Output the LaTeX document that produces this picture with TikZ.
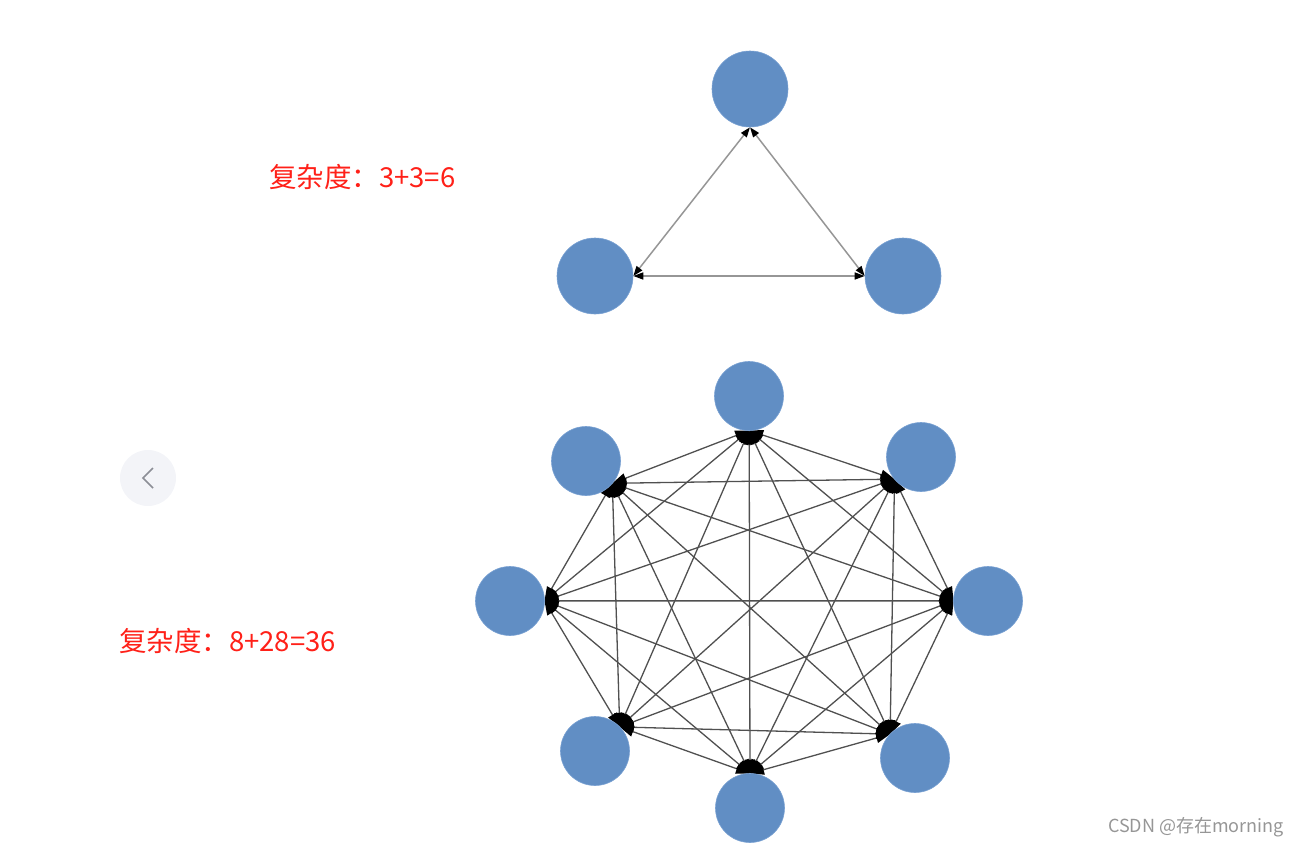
\documentclass[tikz,border=0pt]{standalone}
\usepackage{fontspec}
\newfontfamily\cjk{Noto Sans CJK SC}
\usetikzlibrary{arrows.meta,calc,backgrounds}
\definecolor{nodeblue}{RGB}{97,142,196}
\definecolor{nodeedge}{RGB}{120,160,210}
\definecolor{labelred}{RGB}{255,32,24}
\definecolor{wmgray}{RGB}{150,150,150}
\definecolor{btnbg}{RGB}{243,244,248}
\definecolor{btnfg}{RGB}{140,142,150}
\tikzset{
  gnode/.style={circle,fill=nodeblue,draw=nodeedge,line width=0.6pt,inner sep=0pt},
  trinode/.style={gnode,minimum size=76pt},
  octnode/.style={gnode,minimum size=69pt},
  triedge/.style={draw={rgb,255:red,150;green,150;blue,150},line width=1.5pt,
    {Triangle[length=10pt,width=7pt,fill=black,color=black]}-{Triangle[length=10pt,width=7pt,fill=black,color=black]}},
  octedge/.style={draw={rgb,255:red,80;green,80;blue,80},line width=1.3pt,
    {Triangle[length=14pt,width=10pt,fill=black,color=black]}-{Triangle[length=14pt,width=10pt,fill=black,color=black]}},
  redlabel/.style={text=labelred,font=\cjk\fontsize{27.5}{32}\selectfont,anchor=west,inner sep=0pt},
}
\begin{document}
\begin{tikzpicture}[x=1pt,y=-1pt]
\useasboundingbox (0,0) rectangle (1299,846);

% back button
\node[circle,fill=btnbg,minimum size=56pt,inner sep=0pt] (btn) at (148,478) {};
\draw[btnfg,line width=1.6pt] ($(btn)+(5,-10)$) -- ($(btn)+(-5,0)$) -- ($(btn)+(5,10)$);

% labels
\node[redlabel] (lab1) at (269,177) {复杂度：3+3=6};
\node[redlabel] (lab2) at (119,641) {复杂度：8+28=36};

% watermark
\node[anchor=east,text=wmgray,font=\cjk\fontsize{18}{20}\selectfont,inner sep=0pt] (wm) at (1284,827) {CSDN @存在morning};

% triangle graph
\node[trinode] (a1) at (750,89) {};
\node[trinode] (a2) at (595,276) {};
\node[trinode] (a3) at (903,276) {};
\begin{scope}[on background layer]
\draw[triedge] (a1.south) -- (a2.east);
\draw[triedge] (a1.south) -- (a3.west);
\draw[triedge] (a2.east) -- (a3.west);
\end{scope}

% octagon graph
\coordinate (oc) at (750,600);
\node[octnode] (b1) at (749,396) {};
\node[octnode] (b2) at (921,457) {};
\node[octnode] (b3) at (988,601) {};
\node[octnode] (b4) at (915,758) {};
\node[octnode] (b5) at (750,808) {};
\node[octnode] (b6) at (595,751) {};
\node[octnode] (b7) at (510,601) {};
\node[octnode] (b8) at (586,461) {};
\foreach \i in {1,...,8}{
  \coordinate (p\i) at ($(b\i)!34.5pt!(oc)$);
}
\begin{scope}[on background layer]
\foreach \i in {1,...,7}{
  \pgfmathtruncatemacro{\k}{\i+1}
  \foreach \j in {\k,...,8}{
    \draw[octedge] (p\i) -- (p\j);
  }
}
\end{scope}
\end{tikzpicture}
\end{document}
